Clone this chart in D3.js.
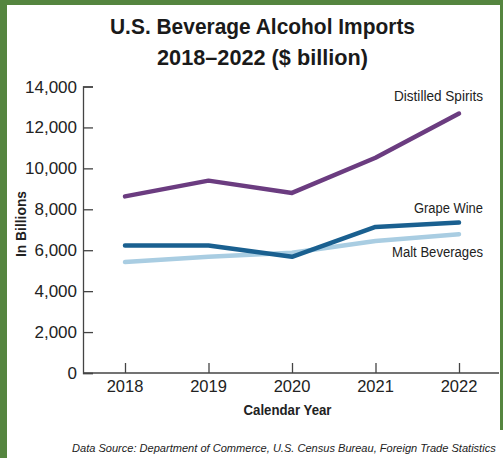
<!DOCTYPE html>
<html><head><meta charset="utf-8">
<script src="https://cdn.jsdelivr.net/npm/d3@7"></script>
<style>
html,body{margin:0;padding:0;background:#fff;}
svg{display:block;}
text{font-family:"Liberation Sans",Arial,sans-serif;}
</style></head>
<body>
<svg id="c" width="503" height="458"></svg>
<script>
const years = [2018, 2019, 2020, 2021, 2022];
const yTicks = [0, 2000, 4000, 6000, 8000, 10000, 12000, 14000];
const seriesNames = ["Distilled Spirits", "Grape Wine", "Malt Beverages"];
const distilledSpirits = [8630, 9400, 8800, 10520, 12680];
const grapeWine = [6230, 6230, 5680, 7140, 7350];
const maltBeverages = [5420, 5680, 5880, 6450, 6780];
const seriesColors = ["#6b3c80", "#1a6090", "#a9cde2"];
const titleLines = ["U.S. Beverage Alcohol Imports", "2018\u20132022 ($ billion)"];
const yTitle = "In Billions";
const xTitle = "Calendar Year";
const source = "Data Source: Department of Commerce, U.S. Census Bureau, Foreign Trade Statistics";

const svg = d3.select("#c");
const green = "#55853f";
// border
svg.append("rect").attr("x",0).attr("y",0).attr("width",503).attr("height",458).attr("fill","#fff");
svg.append("rect").attr("x",0).attr("y",0).attr("width",7).attr("height",458).attr("fill",green);
svg.append("rect").attr("x",0).attr("y",0).attr("width",503).attr("height",5).attr("fill",green);
svg.append("rect").attr("x",500).attr("y",0).attr("width",3).attr("height",430).attr("fill",green);

const x = d3.scalePoint().domain(years).range([125, 459]);
const y = d3.scaleLinear().domain([0, 14000]).range([373, 86.5]);

// title
const titleW = [305, 211];
svg.selectAll("text.title").data(titleLines).enter().append("text")
  .attr("class","title")
  .attr("x", 262.5).attr("y", (d,i)=> 33.5 + i*31)
  .attr("text-anchor","middle")
  .attr("font-weight","bold").attr("font-size", 21.5).attr("fill","#1a1a1a")
  .attr("textLength",(d,i)=>titleW[i]).attr("lengthAdjust","spacingAndGlyphs")
  .text(d=>d);

// y axis
const yAxis = d3.axisRight(y).tickValues(yTicks).tickSize(10).tickFormat("");
const gy = svg.append("g").attr("transform","translate(83,0)").call(yAxis);
gy.select(".domain").attr("stroke","#444").attr("stroke-width",1.3);
gy.selectAll(".tick line").attr("stroke","#444").attr("stroke-width",1.3);
svg.append("g").selectAll("text").data(yTicks).enter().append("text")
  .attr("x", 77).attr("y", d=>y(d)+6)
  .attr("text-anchor","end").attr("font-size",17).attr("fill","#222")
  .text(d=>d3.format(",")(d));

// x axis
const xAxis = d3.axisTop(x).tickSize(10).tickFormat("");
const gx = svg.append("g").attr("transform","translate(0,373)").call(xAxis);
gx.select(".domain").remove();
gx.selectAll(".tick line").attr("stroke","#444").attr("stroke-width",1.3);
svg.append("line").attr("x1",83).attr("x2",499).attr("y1",373).attr("y2",373)
  .attr("stroke","#444").attr("stroke-width",1.3);
svg.append("g").selectAll("text").data(years).enter().append("text")
  .attr("x", d=>x(d)).attr("y", 392)
  .attr("text-anchor","middle").attr("font-size",16.5).attr("fill","#222")
  .text(d=>d);

// axis titles
svg.append("text").attr("transform","translate(26,224) rotate(-90)")
  .attr("text-anchor","middle").attr("font-weight","bold").attr("font-size",14).attr("fill","#222")
  .attr("textLength",66).attr("lengthAdjust","spacingAndGlyphs")
  .text(yTitle);
svg.append("text").attr("x",287.5).attr("y",415)
  .attr("text-anchor","middle").attr("font-weight","bold").attr("font-size",14.5).attr("fill","#222")
  .attr("textLength",88).attr("lengthAdjust","spacingAndGlyphs")
  .text(xTitle);

// lines
const allSeries = [distilledSpirits, grapeWine, maltBeverages];
const line = d3.line().x((d,i)=>x(years[i])).y(d=>y(d));
const drawOrder = [2, 1, 0];
drawOrder.forEach(k=>{
  svg.append("path").datum(allSeries[k]).attr("d", line)
    .attr("fill","none").attr("stroke", seriesColors[k]).attr("stroke-width",4.5)
    .attr("stroke-linecap","round").attr("stroke-linejoin","round");
});

// series labels
const labelY = [100.5, 212.5, 256.5];
const labelW = [89, 69, 91];
svg.append("g").selectAll("text").data(seriesNames).enter().append("text")
  .attr("x", (d,i)=>483 - labelW[i]).attr("y", (d,i)=>labelY[i])
  .attr("font-size",15.5).attr("fill","#222")
  .attr("textLength",(d,i)=>labelW[i]).attr("lengthAdjust","spacingAndGlyphs")
  .text(d=>d);

// source (horizontally compressed via transform so its box stays inside)
const src = svg.append("text").attr("x",0).attr("y",0)
  .attr("font-style","italic").attr("font-size",11.3).attr("fill","#222")
  .text(source);
const natW = src.node().getComputedTextLength();
const k = 424 / natW;
src.attr("transform", `translate(72,452) scale(${k},1)`);
</script>
</body></html>
